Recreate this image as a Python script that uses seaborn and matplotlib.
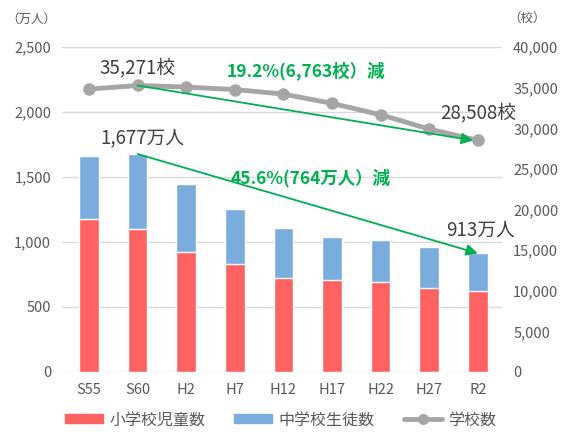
import numpy as np
import pandas as pd
import matplotlib.pyplot as plt
import seaborn as sns
from matplotlib.patches import Patch
from matplotlib.lines import Line2D

years = ["S55", "S60", "H2", "H7", "H12", "H17", "H22", "H27", "R2"]
elementary = [1175, 1100, 925, 828, 725, 710, 690, 644, 621]
junior_high = [489, 577, 519, 426, 383, 331, 325, 318, 292]
schools = [34830, 35271, 35077, 34770, 34215, 33070, 31670, 29908, 28508]

RED = "#FF6361"
BLUE = "#7AADDD"
GRAY = "#A6A6A6"
GREEN = "#00B050"
TXT = "#595959"

sns.set_theme(style="white")
plt.rcParams["font.family"] = ["Noto Sans CJK JP", "DejaVu Sans"]

df = pd.DataFrame({"year": years, "elem": elementary, "jh": junior_high, "schools": schools})
df["total"] = df["elem"] + df["jh"]

fig = plt.figure(figsize=(5.61, 4.32), dpi=100)
ax = fig.add_axes([0.111, 0.139, 0.784, 0.752])

# stacked bars: total (blue) behind, elementary (red) in front
sns.barplot(data=df, x="year", y="total", color=BLUE, width=0.4, saturation=1, ax=ax, zorder=2)
sns.barplot(data=df, x="year", y="elem", color=RED, width=0.4, saturation=1, ax=ax, zorder=3)

ax.set_ylim(0, 2500)
ax.set_yticks(np.arange(0, 2501, 500))
ax.set_yticklabels([f"{v:,}" for v in range(0, 2501, 500)])
ax.yaxis.grid(True, color="#D9D9D9", linewidth=1)
ax.set_axisbelow(True)
ax.set_xlabel("")
ax.set_ylabel("")
for s in ax.spines.values():
    s.set_visible(False)
ax.tick_params(axis="both", colors=TXT, labelsize=10.5, length=0, pad=8)

ax2 = ax.twinx()
pos = np.arange(len(years))
sns.lineplot(x=pos, y=df["schools"], color=GRAY, linewidth=3.5, marker="o",
             markersize=9, markeredgewidth=0, ax=ax2, zorder=4)
ax2.set_ylim(0, 40000)
ax2.set_yticks(np.arange(0, 40001, 5000))
ax2.set_yticklabels([f"{v:,}" for v in range(0, 40001, 5000)])
ax2.set_ylabel("")
for s in ax2.spines.values():
    s.set_visible(False)
ax2.tick_params(axis="y", colors=TXT, labelsize=10.5, length=0, pad=8)
ax2.set_xlim(-0.55, len(years) - 0.5)
ax.set_xlim(-0.55, len(years) - 0.5)

# arrows
ax2.annotate("", xy=(pos[-1] - 0.1, schools[-1]), xytext=(pos[1], schools[1]),
             arrowprops=dict(arrowstyle="-|>", color=GREEN, lw=1.3, mutation_scale=17,
                             shrinkA=0, shrinkB=0), zorder=5)
ax2.annotate("", xy=(pos[-1], df["total"].iloc[-1] * 16), xytext=(pos[1], df["total"].iloc[1] * 16),
             arrowprops=dict(arrowstyle="-|>", color=GREEN, lw=1.3, mutation_scale=17,
                             shrinkA=0, shrinkB=0), zorder=5)

# labels
ax2.text(pos[1], 37500, f"{schools[1]:,}校", ha="center", va="center", fontsize=13.5, color="#404040")
ax2.text(pos[-1], 31850, f"{schools[-1]:,}校", ha="center", va="center", fontsize=13.5, color="#404040")
ax.text(pos[1] + 0.1, 1805, f"{df['total'].iloc[1]:,}万人", ha="center", va="center",
        fontsize=13.5, color="#404040")
ax.text(pos[-1] + 0.05, 1090, "913万人", ha="center", va="center", fontsize=13.5, color="#404040")
ax2.text(4.47, 37050, "19.2%(6,763校）減", ha="center", va="center", fontsize=12.5,
         color=GREEN, fontweight="bold")
ax.text(4.55, 1495, "45.6%(764万人）減", ha="center", va="center", fontsize=12.5,
        color=GREEN, fontweight="bold")

fig.text(0.055, 0.955, "（万人）", ha="center", va="center", fontsize=9, color=TXT)
fig.text(0.94, 0.958, "（校）", ha="center", va="center", fontsize=9, color=TXT)

handles = [Patch(color=RED), Patch(color=BLUE),
           Line2D([], [], color=GRAY, lw=3.5, marker="o", markersize=8, markeredgewidth=0)]
fig.legend(handles, ["小学校児童数", "中学校生徒数", "学校数"], loc="center",
           bbox_to_anchor=(0.5, 0.028), ncol=3, frameon=False, fontsize=11.5,
           handlelength=2.4, handleheight=0.5, handletextpad=0.4, columnspacing=1.8,
           labelcolor=TXT)

fig.savefig("out.png", dpi=100)
